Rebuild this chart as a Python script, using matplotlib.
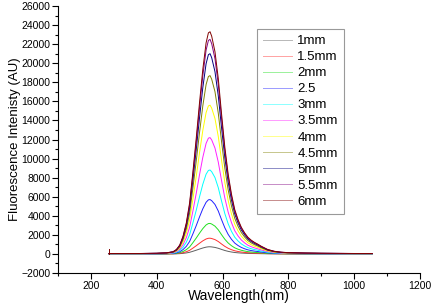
import matplotlib
matplotlib.use("Agg")
import matplotlib.pyplot as plt
import numpy as np
from matplotlib.ticker import MultipleLocator

plt.rcParams['font.family'] = ['Liberation Sans', 'DejaVu Sans']

# Wavelength grid (nm)
wavelength = [255, 300, 350, 400, 430, 450, 460, 470, 480, 490, 500, 510, 520, 530,
              540, 550, 557, 562, 567, 577, 587, 597, 607, 617, 627, 637, 647, 657,
              667, 677, 687, 697, 707, 717, 737, 757, 777, 797, 850, 900, 1000, 1055]
# Normalised emission profile (relative to the peak)
profile = [0.002, 0.002, 0.002, 0.003, 0.005, 0.01, 0.02, 0.04, 0.08, 0.14, 0.23, 0.37,
           0.52, 0.68, 0.83, 0.95, 0.995, 1.0, 0.98, 0.91, 0.79, 0.63, 0.48, 0.36, 0.27,
           0.20, 0.155, 0.12, 0.095, 0.075, 0.062, 0.052, 0.044, 0.035, 0.02, 0.012,
           0.008, 0.006, 0.004, 0.003, 0.002, 0.002]

labels = ['1mm', '1.5mm', '2mm', '2.5', '3mm', '3.5mm', '4mm', '4.5mm', '5mm', '5.5mm', '6mm']
peaks = [750, 1650, 3200, 5700, 8800, 12200, 15600, 18700, 21000, 22500, 23300]
colors = ['#606060', '#ff3030', '#20e020', '#2020ff', '#00ffff', '#ff20ff',
          '#ffff00', '#808000', '#000080', '#800080', '#800000']

fig = plt.figure(figsize=(4.33, 3.06), dpi=100)
ax = fig.add_axes([58/433, 1-273/306, (420-58)/433, (273-6)/306])

wl = np.array(wavelength)
prof = np.array(profile)
for lab, pk, c in zip(labels, peaks, colors):
    ax.plot(wl, pk*prof, color=c, lw=0.7, label=lab)

# small start spike
ax.plot([254, 254], [0, 500], color='#800000', lw=0.7)

ax.set_xlim(100, 1200)
ax.set_ylim(-2000, 26000)
ax.xaxis.set_major_locator(MultipleLocator(200))
ax.xaxis.set_minor_locator(MultipleLocator(100))
ax.yaxis.set_major_locator(MultipleLocator(2000))
ax.yaxis.set_minor_locator(MultipleLocator(1000))
ax.spines['top'].set_visible(False)
ax.spines['right'].set_visible(False)
ax.tick_params(which='major', direction='out', length=4, width=0.8, labelsize=7.5, pad=1.5)
ax.tick_params(which='minor', direction='out', length=2.5, width=0.8)
ax.set_xlabel('Wavelength(nm)', fontsize=10, labelpad=-1)
ax.set_ylabel('Fluorescence Intenisty (AU)', fontsize=9.5, labelpad=0)

leg = ax.legend(loc='upper left', bbox_to_anchor=((257-58)/362, 1-(29-6)/267),
                fontsize=9.5, frameon=True, fancybox=False, edgecolor='#808080',
                handlelength=2.2, labelspacing=0.29, borderpad=0.45, handletextpad=0.4,
                borderaxespad=0)
leg.get_frame().set_linewidth(0.8)
for h in leg.get_lines():
    h.set_alpha(0.45)

fig.savefig('out.png', dpi=100)
